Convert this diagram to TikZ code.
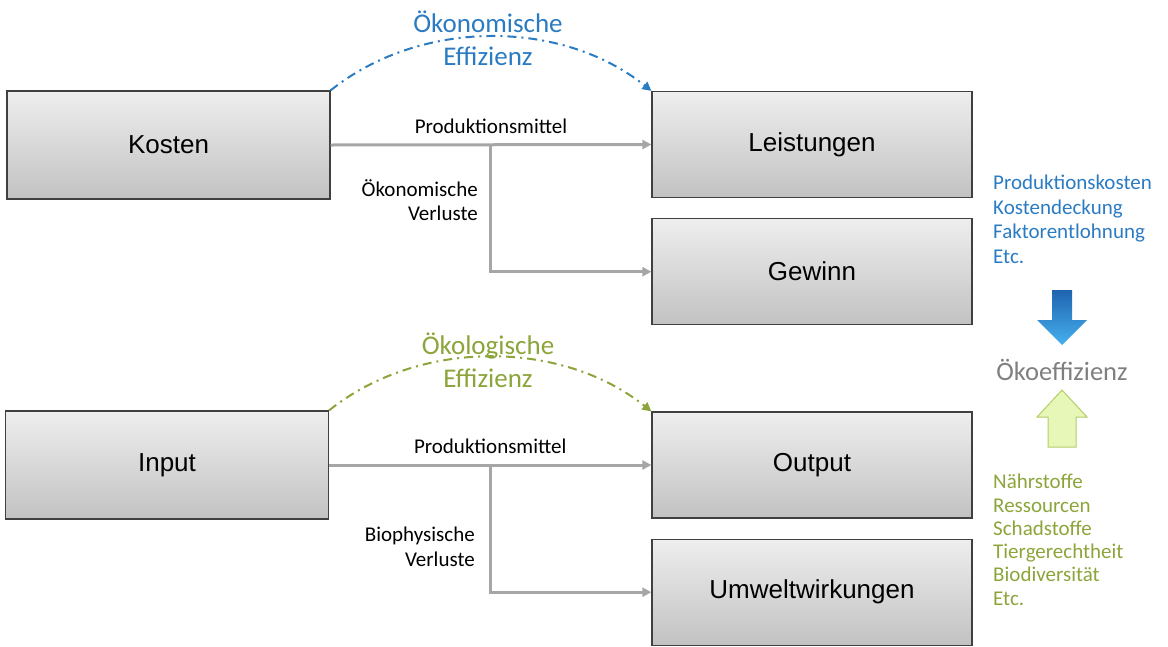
\documentclass[tikz,border=0pt]{standalone}
\usepackage{fontspec}
\setmainfont{Carlito}
\newfontfamily\boxfont{Liberation Sans}
\usetikzlibrary{positioning,arrows.meta}
\tikzset{>={Triangle[length=9pt,width=9pt]}}
\colorlet{background}{white}
\definecolor{penGray}{HTML}{A6A6A6}
\definecolor{boxLine}{HTML}{404040}
\definecolor{boxTop}{HTML}{EEEEEE}
\definecolor{boxBottom}{HTML}{C2C2C2}
\definecolor{ecoBlue}{HTML}{2B7BC2}
\definecolor{ecoGreen}{HTML}{8CA53B}
\definecolor{oekoGray}{HTML}{7F7F7F}
\definecolor{arrowDark}{HTML}{1F64B0}
\definecolor{arrowLight}{HTML}{45B0EE}
\definecolor{leafFill}{HTML}{E6F7B8}
\definecolor{leafLine}{HTML}{B2CE68}
\tikzset{
  box/.style={draw=boxLine, line width=1.2pt, top color=boxTop, bottom color=boxBottom,
    minimum width=320pt, minimum height=106pt, inner sep=0pt,
    font=\boxfont\fontsize{26}{30}\selectfont},
  flow/.style={->, penGray, line width=3pt},
  effArrow/.style={->, line width=2pt, dash pattern=on 9pt off 5pt on 2pt off 5pt},
  effLabel/.style={align=center, inner sep=0pt, font=\fontsize{27}{33}\selectfont},
  lbl/.style={inner sep=0pt, text=black, font=\fontsize{21}{24.5}\selectfont},
}

\begin{document}
\begin{tikzpicture}[x=1pt,y=-1pt]
  \useasboundingbox (0,0) rectangle (1168,646);
  % economic part
  \node[box, minimum width=323pt, minimum height=108pt] (kosten) at (168.5,145) {Kosten};
  \node[box] (leist) at (812,144.5) {Leistungen};
  \node[box, below=20pt of leist] (gewinn) {Gewinn};
  \coordinate (kBranch) at (490,145);
  \draw[flow] (kosten.east) -- node[lbl, above=10pt] {Produktionsmittel} (leist.west);
  \draw[flow] (kBranch) |- (gewinn.west);
  \node[lbl, align=right, anchor=east] (kVerl) at (478,200) {Ökonomische\\Verluste};
  \draw[effArrow, ecoBlue] (kosten.north east) .. controls +(90,-72) and +(-90,-72) .. (leist.north west);
  \node[effLabel, ecoBlue] (kEff) at (488,38.5) {Ökonomische\\Effizienz};

  % ecological part
  \node[box, minimum width=323pt, minimum height=108pt] (input) at (167,465) {Input};
  \node[box] (output) at (812,465) {Output};
  \node[box, below=20pt of output] (umwelt) {Umweltwirkungen};
  \coordinate (iBranch) at (490,465);
  \draw[flow] (input.east) -- node[lbl, above=10pt] {Produktionsmittel} (output.west);
  \draw[flow] (iBranch) |- (umwelt.west);
  \node[lbl, align=right, anchor=east] (iVerl) at (475,547) {Biophysische\\Verluste};
  \draw[effArrow, ecoGreen] (input.north east) .. controls +(90,-72) and +(-90,-72) .. (output.north west);
  \node[effLabel, ecoGreen] (iEff) at (488,360) {Ökologische\\Effizienz};

  % right column
  \node[lbl, text=ecoBlue, align=left, anchor=north west] (kList) at (993,175)
    {Produktionskosten\\Kostendeckung\\Faktorentlohnung\\Etc.};
  \node[inner sep=0pt, oekoGray, font=\fontsize{26.5}{30}\selectfont] (oeko) at (1062,370) {Ökoeffizienz};
  \shade[top color=arrowDark, bottom color=arrowLight] (1052,290) -- (1072,290) -- (1072,320) -- (1087,320)
    -- (1062,345) -- (1037,320) -- (1052,320) -- cycle;% down arrow
  \draw[fill=leafFill, draw=leafLine, line width=1pt] (1062,390) -- (1087,417) -- (1076,417) -- (1076,447)
    -- (1048,447) -- (1048,417) -- (1037,417) -- cycle;% up arrow
  \node[lbl, text=ecoGreen, align=left, anchor=north west, font=\fontsize{21}{23.3}\selectfont] (iList) at (993,474)
    {Nährstoffe\\Ressourcen\\Schadstoffe\\Tiergerechtheit\\Biodiversität\\Etc.};
\end{tikzpicture}
\end{document}
